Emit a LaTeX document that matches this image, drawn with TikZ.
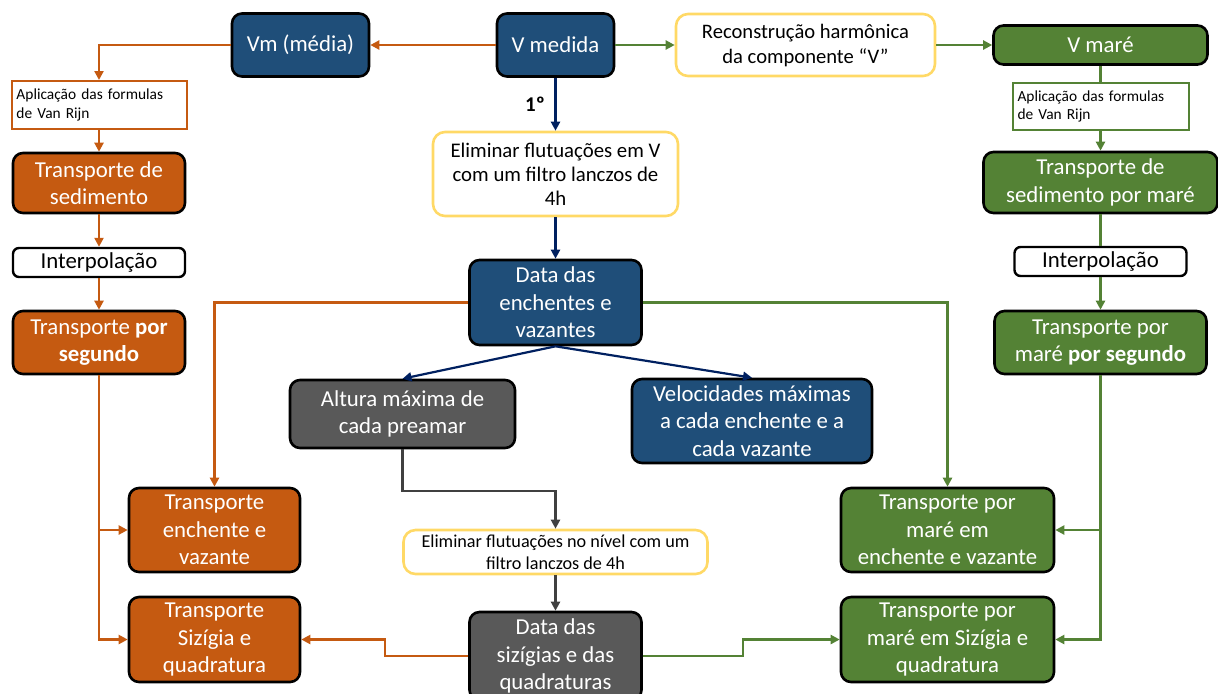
\documentclass[tikz,border=0pt]{standalone}
\usepackage{fontspec}
\setmainfont{Carlito}
\usepackage{tikz}
\usetikzlibrary{arrows.meta,positioning,calc}
\definecolor{mblue}{RGB}{31,78,121}
\definecolor{morange}{RGB}{197,90,17}
\definecolor{mgreen}{RGB}{84,130,53}
\definecolor{mgray}{RGB}{89,89,89}
\definecolor{myellow}{RGB}{255,217,102}
\definecolor{mnavy}{RGB}{0,32,96}
\definecolor{mdark}{RGB}{64,64,64}

\begin{document}
\begin{tikzpicture}[x=0.5pt,y=-0.5pt,>={Triangle[length=4.5pt,width=4.5pt]},
  proc/.style={draw=black,line width=1.3pt,rounded corners=5pt,text=white,align=center,
    inner sep=1pt,font=\fontsize{11.4}{13.7}\selectfont},
  bluebox/.style={proc,fill=mblue},
  orangebox/.style={proc,fill=morange},
  greenbox/.style={proc,fill=mgreen},
  graybox/.style={proc,fill=mgray},
  note/.style={draw=myellow,line width=1.3pt,rounded corners=6pt,fill=white,align=center,inner sep=1pt},
  rijn/.style={draw,line width=1pt,fill=white,align=left,inner xsep=2.5pt,
    font=\fontsize{7.7}{9.3}\selectfont},
  interp/.style={draw=black,line width=1.2pt,rounded corners=3pt,fill=white,inner sep=0pt,
    font=\fontsize{11.4}{13.7}\selectfont},
  lnk/.style={line width=1.1pt}]
  \useasboundingbox (0,0) rectangle (1218,693);

  % linha de cima
  \node[bluebox,minimum width=68.5pt,minimum height=31.5pt] (vm) at (300.5,45) {Vm (média)};
  \node[bluebox,minimum width=58.5pt,minimum height=31.5pt] (vmed) at (555.5,45) {V medida};
  \node[note,minimum width=129.5pt,minimum height=31pt,font=\fontsize{10.3}{12.5}\selectfont] (recon) at (805.5,45) {Reconstrução harmônica\\da componente “V”};
  \node[greenbox,minimum width=107pt,minimum height=19.5pt] (vmare) at (1100.5,45) {V maré};

  % coluna da esquerda
  \node[rijn,draw=morange,text width=82.5pt,minimum height=24pt] (aplL) at (99,105) {Aplicação das formulas\\de Van Rijn};
  \node[orangebox,minimum width=86pt,minimum height=30pt] (tsedL) at (99,183) {Transporte de\\sedimento};
  \node[interp,minimum width=86pt,minimum height=14.5pt] (interpL) at (99,262.5) {Interpolação};
  \node[orangebox,minimum width=86pt,minimum height=31.5pt] (tsegL) at (99,342.5) {Transporte \textbf{por}\\\textbf{segundo}};
  \node[orangebox,minimum width=85.5pt,minimum height=42pt] (tencL) at (214.5,530) {Transporte\\enchente e\\vazante};
  \node[orangebox,minimum width=85.5pt,minimum height=42.5pt] (tsizL) at (214.5,639.5) {Transporte\\Sizígia e\\quadratura};

  % coluna da direita
  \node[rijn,draw=mgreen,text width=83pt,minimum height=23.5pt] (aplR) at (1100.5,106.5) {Aplicação das formulas\\de Van Rijn};
  \node[greenbox,minimum width=117pt,minimum height=30.5pt] (tsedR) at (1100.5,182.5) {Transporte de\\sedimento por maré};
  \node[interp,minimum width=86pt,minimum height=14.5pt] (interpR) at (1100.5,261.5) {Interpolação};
  \node[greenbox,minimum width=106pt,minimum height=31.5pt] (tsegR) at (1100.5,342.5) {Transporte por\\maré \textbf{por segundo}};
  \node[greenbox,minimum width=106.5pt,minimum height=42pt] (tencR) at (947.5,530) {Transporte por\\maré em\\enchente e vazante};
  \node[greenbox,minimum width=106.5pt,minimum height=42.5pt] (tsizR) at (947.5,639.5) {Transporte por\\maré em Sizígia e\\quadratura};

  % centro
  \node[note,minimum width=122.5pt,minimum height=42pt,font=\fontsize{10.4}{12}\selectfont] (elimV) at (555.5,174) {Eliminar flutuações em V\\com um filtro lanczos de\\4h};
  \node[bluebox,minimum width=86pt,minimum height=42.5pt] (dataE) at (555.5,302.5) {Data das\\enchentes e\\vazantes};
  \node[graybox,minimum width=112.5pt,minimum height=34pt] (altura) at (402.5,414) {Altura máxima de\\cada preamar};
  \node[bluebox,minimum width=120pt,minimum height=42pt] (veloc) at (752,421) {Velocidades máximas\\a cada enchente e a\\cada vazante};
  \node[note,minimum width=152pt,minimum height=22pt,font=\fontsize{9.1}{10.8}\selectfont] (elimN) at (555.5,552) {Eliminar flutuações no nível com um\\filtro lanczos de 4h};
  \node[graybox,minimum width=86pt,minimum height=44pt] (dataS) at (555.5,656) {Data das\\sizígias e das\\quadraturas};
  \node[font=\fontsize{10.5}{12}\selectfont\bfseries] (ordem) at (535,104) {1º};

  % ligações laranja
  \draw[lnk,morange,->] (vmed.west) -- (vm.east);
  \draw[lnk,morange,->] (vm.west) -| (aplL.north);
  \draw[lnk,morange,->] (aplL) -- (tsedL);
  \draw[lnk,morange,->] (tsedL) -- (interpL);
  \draw[lnk,morange,->] (interpL) -- (tsegL);
  \draw[lnk,morange,->] (tsegL.south) |- (tsizL.west);
  \coordinate (jL) at (tsegL.south |- tencL.west);
  \draw[lnk,morange,->] (jL) -- (tencL.west);
  \draw[lnk,morange,->] (dataE.west) -| (tencL.north);
  \draw[lnk,morange,->] (dataS.west) -- ++(-83,0) |- (tsizL.east);

  % ligações verdes
  \draw[lnk,mgreen,->] (vmed.east) -- (recon.west);
  \draw[lnk,mgreen,->] (recon.east) -- (vmare.west);
  \draw[lnk,mgreen] (vmare) -- (aplR);
  \draw[lnk,mgreen,->] (aplR) -- (tsedR);
  \draw[lnk,mgreen] (tsedR) -- (interpR);
  \draw[lnk,mgreen,->] (interpR) -- (tsegR);
  \draw[lnk,mgreen,->] (tsegR.south) |- (tsizR.east);
  \coordinate (jR) at (tsegR.south |- tencR.east);
  \draw[lnk,mgreen,->] (jR) -- (tencR.east);
  \draw[lnk,mgreen,->] (dataE.east) -| (tencR.north);
  \draw[lnk,mgreen,->] (dataS.east) -- ++(100,0) |- (tsizR.west);

  % ligações azuis e cinzentas
  \draw[lnk,mnavy,->] (vmed) -- (elimV);
  \draw[lnk,mnavy,->] (elimV) -- (dataE);
  \draw[lnk,mnavy,->] (dataE.south) -- (altura.north);
  \draw[lnk,mnavy,->] (dataE.south) -- (veloc.north);
  \draw[lnk,mdark,->] (altura.south) -- ++(0,42) -| (elimN.north);
  \draw[lnk,mdark,->] (elimN) -- (dataS);
\end{tikzpicture}
\end{document}
